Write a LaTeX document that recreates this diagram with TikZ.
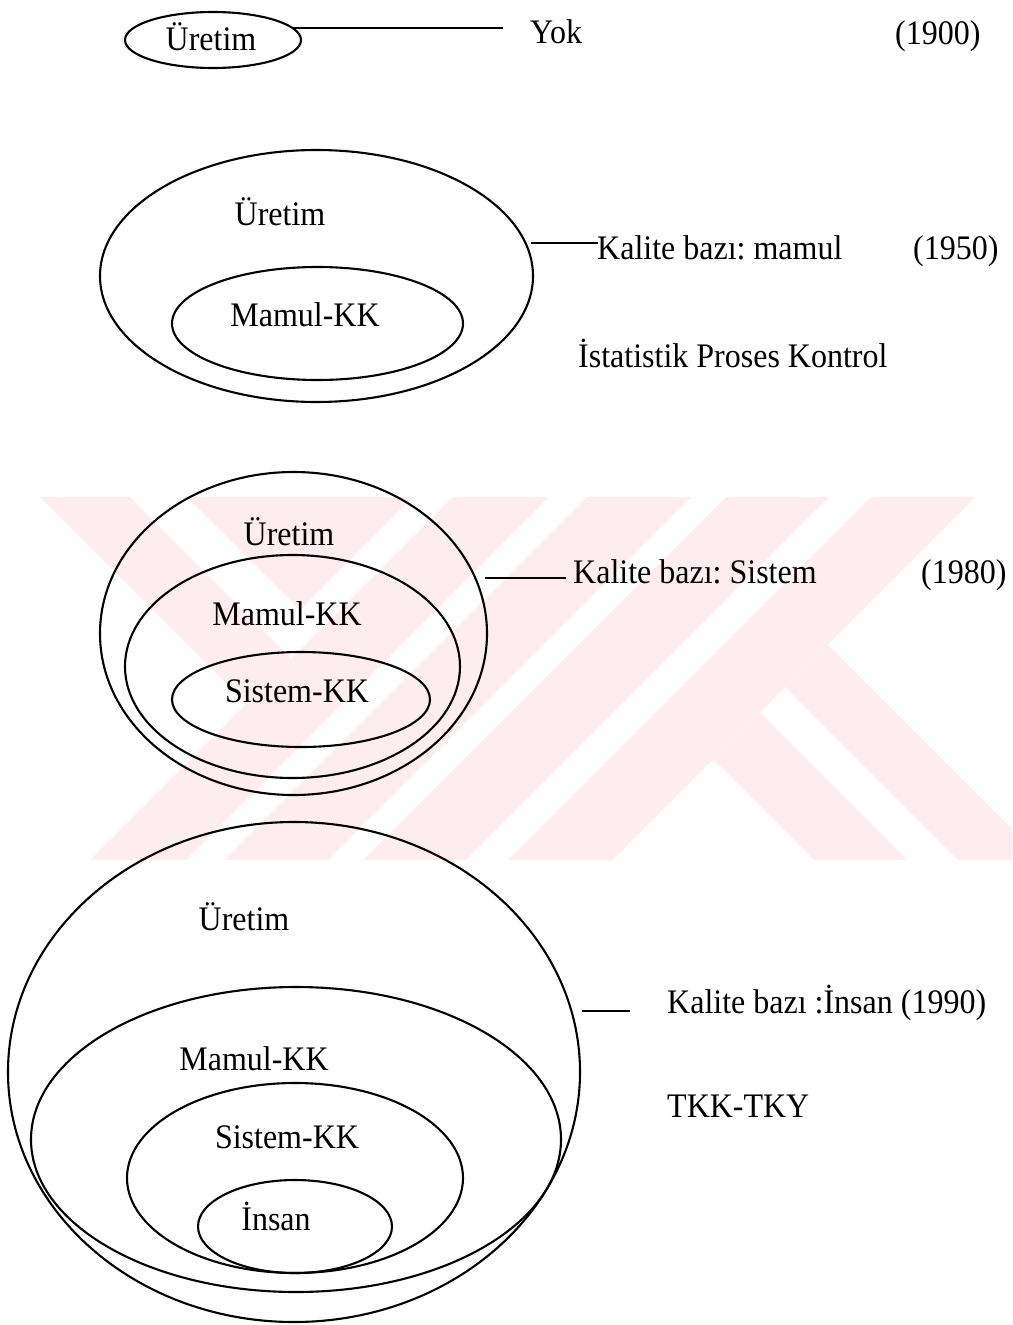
\documentclass[tikz,border=0pt]{standalone}
\usepackage{fontspec}
\setmainfont[FakeStretch=0.93]{Liberation Serif}
\usetikzlibrary{shapes.geometric}
\definecolor{markpink}{RGB}{253,236,240}
\frenchspacing
\begin{document}
\begin{tikzpicture}[x=1pt,y=-1pt,
  ring/.style={draw=black, line width=2.1pt, ellipse, inner sep=0pt},
  lbl/.style={font=\fontsize{34.4}{40}\selectfont, inner sep=0pt, anchor=base},
  side/.style={lbl, anchor=base west},
  lead/.style={draw=black, line width=2pt}]
\useasboundingbox (0,0) rectangle (1012,1325);

% pale striped mark behind the third group
\begin{scope}
  \clip (0,497) rectangle (1012,860);
  \fill[markpink] (40,497) -- (130,497) -- (291.5,658.5) -- (246.5,703.5) -- cycle;
  \fill[markpink] (187,497) -- (413,497) -- (300,610) -- cycle;
  \fill[markpink] (453,497) -- (549,497) -- (186,860) -- (90,860) -- cycle;
  \fill[markpink] (587,497) -- (691,497) -- (328,860) -- (224,860) -- cycle;
  \fill[markpink] (726,497) -- (829,497) -- (466,860) -- (363,860) -- cycle;
  \fill[markpink] (871,497) -- (975,497) -- (612,860) -- (508,860) -- cycle;
  \fill[markpink] (827.5,644.5) -- (1012,829) -- (1012,860) -- (958,860) -- (785,687) -- cycle;
  \fill[markpink] (759.5,712.5) -- (907,860) -- (814,860) -- (713,759) -- cycle;
\end{scope}

% 1900
\node[ring, minimum width=176pt, minimum height=56pt] (e1) at (213,40) {};
\node[lbl] (t1) at (211,50) {Üretim};
\node[side] (y1) at (530,43) {Yok};
\node[side] (d1) at (895,44) {(1900)};
\coordinate (a1) at (293,28);
\coordinate (b1) at (503,28);
\draw[lead] (a1) -- (b1);

% 1950
\node[ring, minimum width=433pt, minimum height=252pt] (e2o) at (316.5,276) {};
\node[ring, minimum width=291pt, minimum height=113pt] (e2i) at (317.5,323.5) {};
\node[lbl] (t2o) at (280,225) {Üretim};
\node[lbl] (t2i) at (305,326) {Mamul-KK};
\node[side] (k2) at (597,259) {Kalite bazı: mamul};
\node[side] (d2) at (913,259) {(1950)};
\node[side] (s2) at (578,367) {İstatistik Proses Kontrol};
\coordinate (a2) at (531,243);
\coordinate (b2) at (598,243);
\draw[lead] (a2) -- (b2);

% 1980
\node[ring, minimum width=387pt, minimum height=323pt] (e3o) at (293.5,633.5) {};
\node[ring, minimum width=335pt, minimum height=223pt] (e3m) at (292.5,666.5) {};
\node[ring, minimum width=258pt, minimum height=95pt] (e3i) at (301,699.5) {};
\node[lbl] (t3o) at (289,545) {Üretim};
\node[lbl] (t3m) at (287,625) {Mamul-KK};
\node[lbl] (t3i) at (297,702) {Sistem-KK};
\node[side] (k3) at (573,583) {Kalite bazı: Sistem};
\node[side] (d3) at (921,583) {(1980)};
\coordinate (a3) at (485,578);
\coordinate (b3) at (566,578);
\draw[lead] (a3) -- (b3);

% 1990
\node[ring, minimum width=572pt, minimum height=500pt] (e4o) at (294,1072) {};
\node[ring, minimum width=530pt, minimum height=305pt] (e4m) at (296,1139.5) {};
\node[ring, minimum width=336pt, minimum height=190pt] (e4s) at (295,1178) {};
\node[ring, minimum width=194pt, minimum height=93pt] (e4i) at (295,1226.5) {};
\node[lbl] (t4o) at (244,930) {Üretim};
\node[lbl] (t4m) at (254,1070) {Mamul-KK};
\node[lbl] (t4s) at (287,1148) {Sistem-KK};
\node[lbl] (t4i) at (276,1230) {İnsan};
\node[side] (k4) at (667,1013) {Kalite bazı :İnsan (1990)};
\node[side] (s4) at (667,1117) {TKK-TKY};
\coordinate (a4) at (582,1011);
\coordinate (b4) at (630,1011);
\draw[lead] (a4) -- (b4);
\end{tikzpicture}
\end{document}
